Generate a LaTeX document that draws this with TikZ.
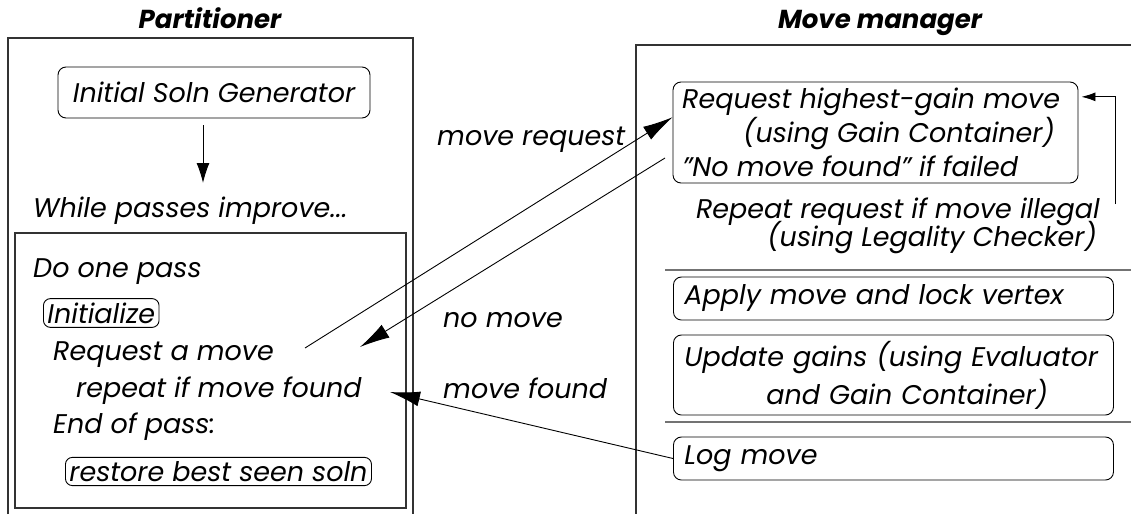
\documentclass[tikz,border=0pt]{standalone}
\usepackage{fontspec}
\setmainfont{Poppins}
\usetikzlibrary{arrows.meta}
\usetikzlibrary{calc}

\tikzset{
  box/.style={draw, rounded corners=8pt, line width=0.9pt, font=\fontsize{27}{38}\selectfont\itshape},
  txt/.style={font=\fontsize{27}{38}\selectfont\itshape, inner sep=0pt, anchor=base west},
  rtxt/.style={txt, anchor=base east},
  title/.style={font=\fontsize{26}{32}\selectfont\bfseries\itshape, inner sep=0pt, anchor=base},
  frame/.style={draw=black!80, line width=1.2pt},
  sepline/.style={draw=black!55, line width=2.4pt},
  mmbox/.style={box, anchor=west, text width=418pt, inner xsep=11pt, align=left},
  msg/.style={line width=0.9pt, -{Latex[length=30pt,width=15pt]}},
}

\begin{document}
\begin{tikzpicture}[x=1pt, y=-1pt]
  \useasboundingbox (0,0) rectangle (1131,514);

  % partitioner side
  \node[title] (parttitle) at (210,28) {Partitioner};
  \draw[frame] (8,514) |- (413,38) -- (413,514);
  \node[box, minimum width=312pt, minimum height=51pt] (init) at (214,92.5) {Initial Soln Generator};
  \coordinate (loopin) at (203,183);
  \draw[-{Latex[length=20pt,width=13pt]}, line width=0.9pt, shorten <=7pt] (init.south -| loopin) -- (loopin);
  \node[txt] (while) at (33,217) {While passes improve...};

  \draw[frame] (15,233) rectangle (406,508);
  \node[txt] (onepass) at (33,277) {Do one pass};
  \node[box, anchor=west, inner sep=4pt, rounded corners=7pt] (initialize) at (43,313) {Initialize};
  \node[txt] (askmove) at (53,360) {Request a move};
  \node[txt] (repeat) at (76,397) {repeat if move found};
  \node[txt] (endpass) at (53,433) {End of pass:};
  \node[box, anchor=west, inner sep=4pt, rounded corners=7pt] (restore) at (65,471.5) {restore best seen soln};

  % move manager side
  \node[title] (mmtitle) at (880,28) {Move manager};
  \draw[frame] (1131,45) -| (636,514);

  \node[box, minimum width=405pt, minimum height=101pt] (req) at (875.5,132.5) {};
  \node[txt] (reqline1) at (682,108) {Request highest-gain move};
  \node[rtxt] (reqline2) at (1055,142) {(using Gain Container)};
  \node[txt] (reqline3) at (682,176) {"No move found" if failed};

  \node[rtxt] (illegal1) at (1100,218) {Repeat request if move illegal};
  \node[rtxt] (illegal2) at (1097,246) {(using Legality Checker)};
  \coordinate (retry) at (1115,204);
  \draw[-{Latex[length=14pt,width=9pt]}, line width=0.9pt, shorten >=3pt] (retry) |- ($(req.north east)!.15!(req.south east)$);

  \draw[sepline] (665,270) -- (1131,270);
  \node[mmbox, minimum height=43pt] (apply) at (673,298.5) {\mbox{Apply move and lock vertex}};
  \node[mmbox, minimum height=80pt] (update) at (673,375) {\mbox{Update gains\ (using Evaluator}\\\hspace*{82pt}\mbox{and Gain Container)}};
  \draw[sepline] (665,422) -- (1131,422);
  \node[mmbox, minimum height=43pt] (logmove) at (673,458.5) {Log move};

  % messages between the two
  \node[txt] (lblreq) at (437,145) {move request};
  \node[txt] (lblnomove) at (443,327) {no move};
  \node[txt] (lblfound) at (443,398) {move found};

  \coordinate (reqfrom) at (305,348);
  \coordinate (nomovefrom) at (665,158);
  \coordinate (nomoveto) at (360,347);
  \coordinate (foundto) at (390,392);
  \draw[msg] (reqfrom) -- ($(req.north west)!.35!(req.south west)$);
  \draw[msg] (nomovefrom) -- (nomoveto);
  \draw[msg] (logmove.west) -- (foundto);
\end{tikzpicture}
\end{document}
